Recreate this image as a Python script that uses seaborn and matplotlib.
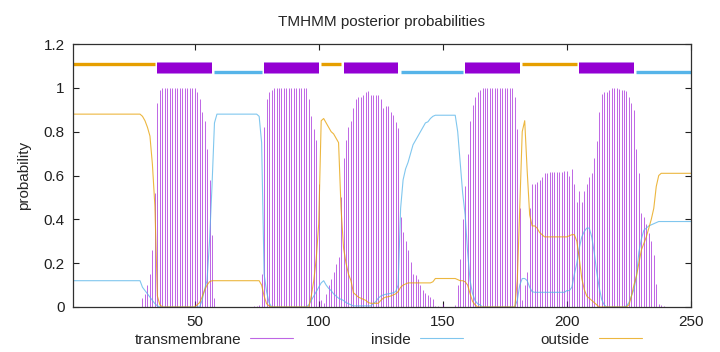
import numpy as np
import pandas as pd
import seaborn as sns
import matplotlib.pyplot as plt
from matplotlib.lines import Line2D
from matplotlib.ticker import FuncFormatter

# per-residue posterior probabilities (residues 1..250)
tm = ([0.0] * 28
      + [.04, .06, .10, .15, .26, .52, .93, .99]
      + [1.0] * 14
      + [.98, .95, .89, .85, .72, .58, .33, .04]
      + [0.0] * 15 + [.005, .005, .01]
      + [.15, .82, .95, .98, .99]
      + [1.0] * 14
      + [.95, .87, .81, .76, .56]
      + [.03, .02, .06, .10, .13, .16, .195, .23]
      + [.50, .68, .76, .82, .85]
      + [.906, .95, .956, .96, .967, .98, .985, .967, .967, .967, .967, .947, .906, .917, .917, .89, .876, .845, .815]
      + [.41, .34, .30, .26, .205, .15, .145, .13, .10, .078, .065, .056, .045, .036, .005]
      + [.003, .002, .014, 0, 0, 0, 0, .01]
      + [.10, .22, .40, .55, .70, .85, .92, .96, .98]
      + [.99] + [1.0] * 13
      + [.96, .81, .45, .03, .10, .16, .45]
      + [.56, .56, .57, .58, .595, .61, .613, .615, .615, .615, .615, .617, .618, .62, .62, .60, .63, .56]
      + [.48, .53, .48, .53, .56, .595, .61, .68, .757, .888]
      + [.97, .98, .98, .99, 1.0, 1.0, 1.0, .995, .99, .99, .985, .96, .93, .90]
      + [.72, .61, .43, .41, .38, .336, .30, .235, .105, .012, .01, .005]
      + [0.0] * 11)

outside = ([.88] * 28
           + [.87, .85, .82, .78, .65, .46, .05, .01]
           + [0.0] * 14
           + [.01, .02, .045, .076, .10, .115, .12, .12]
           + [.12] * 18
           + [.10, .05, .015, .005, 0]
           + [0.0] * 15
           + [.05, .12, .22, .38]
           + [.85, .86, .84, .82, .80, .79, .77, .75]
           + [.45, .27, .20, .15, .12]
           + [.065, .055, .045, .04, .035, .03, .02, .017, .017, .017, .017, .03, .04, .045, .047, .05, .055, .06, .07]
           + [.09, .10, .105] + [.11] * 10 + [.115]
           + [.13] * 9 + [.125, .12]
           + [.12, .115, .10, .06, .025, .01]
           + [0.0] * 16
           + [.12, .45, .80, .85, .62, .42]
           + [.37, .37, .36, .34, .33] + [.32] * 10 + [.325, .33, .33]
           + [.30, .22, .13, .08, .05, .04, .03, .02, .01]
           + [0.0] * 12
           + [.01, .05, .10, .14, .20, .26, .29, .32, .36, .40, .45, .55]
           + [.60] + [.61] * 13)

inside = ([.12] * 28
          + [.09, .075, .06, .045, .03, .015, .005, 0]
          + [0.0] * 16
          + [.03, .08, .12, .30, .55, .84]
          + [.88] * 17 + [.87]
          + [.75, .15, .07, .02, 0]
          + [0.0] * 14
          + [.01, .03, .05, .07, .09, .11, .12]
          + [.10, .085, .075, .06, .05, .04, .035, .03, .02, .015, .01]
          + [.005] * 8
          + [.015, .025, .04, .05, .055, .058, .06, .062, .065, .07, .10]
          + [.45, .58, .63, .66, .70, .74, .76, .78, .80, .82, .84, .845, .86, .87]
          + [.875] * 9
          + [.80, .66, .52, .42, .25, .12, .06, .03, .015, .01]
          + [0.0] * 14
          + [.03, .10, .13, .13, .12, .09, .07]
          + [.067] * 13
          + [.075, .075, .09, .15, .20, .27, .32, .345, .36, .36, .32]
          + [.25, .16, .09, .035, .01]
          + [0.0] * 8
          + [.005, .02, .05]
          + [.08, .14, .25, .31, .35, .36, .37, .375, .38, .385]
          + [.39] * 14)

assert len(tm) == len(inside) == len(outside) == 250

# predicted topology (segments shown above the curves)
seg_start = [1, 35, 58, 78, 101, 110, 133, 159, 182, 205, 228]
seg_end = [34, 57, 77, 100, 109, 132, 158, 181, 204, 227, 250]
seg_kind = ["outside", "TMhelix", "inside", "TMhelix", "outside", "TMhelix",
            "inside", "TMhelix", "outside", "TMhelix", "inside"]

purple = "#9400D3"
blue = "#56B4E9"
orange = "#E69F00"

sns.set_style("ticks")
plt.rcParams["font.family"] = ["Liberation Sans", "DejaVu Sans"]

df = pd.DataFrame({"pos": np.arange(1, 251), "tm": tm, "inside": inside, "outside": outside})

fig = plt.figure(figsize=(7.2, 3.52), dpi=100)
ax = fig.add_axes([73 / 720, 45 / 352, 618 / 720, 263 / 352])

ax.vlines(df["pos"], 0, df["tm"], color=purple, lw=0.7, alpha=0.6)
sns.lineplot(data=df, x="pos", y="inside", color=blue, lw=0.8, alpha=0.75, ax=ax)
sns.lineplot(data=df, x="pos", y="outside", color=orange, lw=0.8, alpha=0.75, ax=ax)

for a, b, k in zip(seg_start, seg_end, seg_kind):
    if k == "TMhelix":
        ax.plot([a, b], [1.09, 1.09], color="#c890ee", lw=8.6, solid_capstyle="butt")
        ax.plot([a, b], [1.09, 1.09], color=purple, lw=7.4, solid_capstyle="butt")
    elif k == "inside":
        ax.plot([a, b], [1.07, 1.07], color=blue, lw=2.4, solid_capstyle="butt")
    else:
        ax.plot([a, b], [1.11, 1.11], color=orange, lw=2.4, solid_capstyle="butt")

ax.set_xlim(1, 250)
ax.set_ylim(0, 1.2)
ax.set_xticks([50, 100, 150, 200, 250])
ax.set_yticks([0, 0.2, 0.4, 0.6, 0.8, 1.0, 1.2])
ax.yaxis.set_major_formatter(FuncFormatter(lambda v, p: "%g" % round(v, 2)))
ax.tick_params(direction="in", length=4, width=0.8, top=True, right=True,
               labelsize=11, colors="#202020", pad=6)
for s in ax.spines.values():
    s.set_visible(True)
    s.set_linewidth(0.9)
    s.set_color("#303030")
ax.set_xlabel("")
ax.set_ylabel("probability", fontsize=11, labelpad=9)
ax.set_title("TMHMM posterior probabilities", fontsize=11, pad=13)

handles = [Line2D([], [], color=purple, lw=0.8, alpha=0.6),
           Line2D([], [], color=blue, lw=0.8, alpha=0.75),
           Line2D([], [], color=orange, lw=0.8, alpha=0.75)]
fig.legend(handles, ["transmembrane", "inside", "outside"], ncol=3, markerfirst=False,
           frameon=False, loc="center", bbox_to_anchor=(0.539, 0.035), fontsize=11,
           handlelength=2.8, columnspacing=5.1, handletextpad=0.6)

plt.savefig("out.png", dpi=100)
